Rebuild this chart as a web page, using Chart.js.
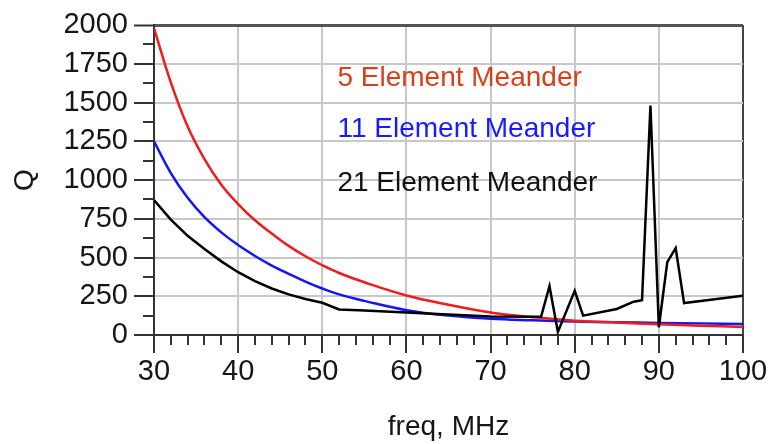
<!DOCTYPE html>
<html>
<head>
<meta charset="utf-8">
<script src="https://cdn.jsdelivr.net/npm/chart.js@4.4.1/dist/chart.umd.min.js"></script>
<style>
  html, body { margin: 0; padding: 0; background: #fff; }
  #wrap { width: 772px; height: 444px; }
</style>
</head>
<body>
<div id="wrap"><canvas id="grafico" width="772" height="444"></canvas></div>
<script>
// valores (frecuencia en MHz, Q)
const freq5 = [30, 32, 34, 36, 38, 40, 42, 44, 46, 48, 50, 52, 55, 60, 65, 70, 75, 80, 85, 90, 95, 100];
const q5 = [1980, 1630, 1345, 1135, 970, 845, 740, 655, 575, 508, 450, 400, 340, 255, 195, 145, 115, 92, 80, 70, 60, 52];

const freq11 = [30, 32, 34, 36, 38, 40, 42, 44, 46, 48, 50, 52, 55, 60, 65, 70, 75, 80, 85, 90, 95, 100];
const q11 = [1250, 1045, 885, 760, 662, 580, 510, 448, 395, 345, 300, 262, 220, 160, 125, 105, 95, 87, 82, 78, 75, 71];

const freq21 = [30, 32, 34, 36, 38, 40, 42, 44, 46, 48, 50, 52, 55, 60, 65, 70, 76, 77, 78, 80, 81, 85, 87, 88, 89, 90, 91, 92, 93, 100];
const q21 = [870, 745, 640, 555, 475, 405, 348, 300, 262, 232, 208, 165, 158, 145, 132, 120, 118, 315, 20, 285, 125, 168, 215, 225, 1480, 50, 470, 560, 206, 253];

// marcas principales de los ejes
const xMajor = [30, 40, 50, 60, 70, 80, 90, 100];
const yMajor = [0, 250, 500, 750, 1000, 1250, 1500, 1750, 2000];

const seriesNames = ['5 Element Meander', '11 Element Meander', '21 Element Meander'];
const textColors = ['#d8401a', '#1a1aff', '#111111'];

const fuente = "'Liberation Sans', Arial, sans-serif";
const toPoints = (xs, ys) => xs.map((x, i) => ({ x: x, y: ys[i] }));

// marcas menores (mas cortas) en los dos ejes
const marcasMenores = {
    id: 'marcasMenores',
    afterDraw(chart) {
        const c = chart.ctx;
        const sx = chart.scales.x, sy = chart.scales.y;
        c.save();
        c.strokeStyle = '#333';
        c.lineWidth = 2;
        sx.ticks.forEach(t => {
            if (xMajor.includes(t.value)) return;
            const px = Math.round(sx.getPixelForValue(t.value));
            c.beginPath(); c.moveTo(px, sx.top); c.lineTo(px, sx.top + 10); c.stroke();
        });
        sy.ticks.forEach(t => {
            if (yMajor.includes(t.value)) return;
            const py = Math.round(sy.getPixelForValue(t.value));
            c.beginPath(); c.moveTo(sy.right, py); c.lineTo(sy.right - 11, py); c.stroke();
        });
        c.restore();
    }
};

// nombres de las series dentro del grafico
const etiquetas = {
    id: 'etiquetas',
    afterDatasetsDraw(chart, args, opts) {
        const c = chart.ctx;
        const sx = chart.scales.x, sy = chart.scales.y;
        c.save();
        c.font = opts.font;
        c.textBaseline = 'alphabetic';
        c.textAlign = 'left';
        seriesNames.forEach((name, i) => {
            c.fillStyle = textColors[i];
            c.fillText(name, sx.getPixelForValue(opts.x), sy.getPixelForValue(opts.y[i]));
        });
        c.restore();
    }
};

const gridColor = (major, edgeValue, edgeColor) => (ctx) => {
    if (!ctx.tick || !major.includes(ctx.tick.value)) return 'rgba(0,0,0,0)';
    return ctx.tick.value === edgeValue ? edgeColor : '#c8c8c8';
};

const miGrafico = new Chart(document.getElementById('grafico').getContext('2d'), {
    type: 'line',
    data: {
        datasets: [{
            label: seriesNames[2],
            data: toPoints(freq21, q21),
            borderColor: '#000000',
            borderWidth: 2.5,
            pointRadius: 0,
            tension: 0
        },
        {
            label: seriesNames[0],
            data: toPoints(freq5, q5),
            borderColor: '#ee1c1c',
            borderWidth: 2.5,
            pointRadius: 0,
            tension: 0.4
        },
        {
            label: seriesNames[1],
            data: toPoints(freq11, q11),
            borderColor: '#1414f5',
            borderWidth: 2.5,
            pointRadius: 0,
            tension: 0.4
        }]
    },
    options: {
        responsive: false,
        animation: false,
        layout: { padding: { top: 25, right: 29, left: 0, bottom: 0 } },
        plugins: {
            legend: { display: false },
            tooltip: { enabled: false },
            etiquetas: { x: 51.8, y: [1605, 1275, 926], font: "28px " + fuente }
        },
        scales: {
            x: {
                type: 'linear',
                min: 30,
                max: 100,
                afterFit: (s) => { s.height = 109; },
                border: { display: true, color: '#333', width: 2 },
                grid: {
                    color: gridColor(xMajor, 100, '#444'),
                    lineWidth: 2,
                    tickLength: 18,
                    tickWidth: 2,
                    tickColor: (c) => c.tick && xMajor.includes(c.tick.value) ? '#333' : 'rgba(0,0,0,0)'
                },
                ticks: {
                    stepSize: 2,
                    autoSkip: false,
                    maxRotation: 0,
                    padding: 2,
                    color: '#161616',
                    font: { family: fuente, size: 29 },
                    callback: (v) => xMajor.includes(v) ? String(v) : ''
                },
                title: {
                    display: true,
                    text: 'freq, MHz',
                    color: '#161616',
                    font: { family: fuente, size: 28 },
                    padding: { top: 0, bottom: 0 }
                }
            },
            y: {
                min: 0,
                max: 2000,
                afterFit: (s) => { s.width = 154; },
                border: { display: true, color: '#333', width: 2 },
                grid: {
                    color: gridColor(yMajor, 2000, '#555'),
                    lineWidth: (c) => c.tick && c.tick.value === 2000 ? 3 : 2,
                    tickLength: 20,
                    tickWidth: 2,
                    tickColor: (c) => c.tick && yMajor.includes(c.tick.value) ? '#333' : 'rgba(0,0,0,0)'
                },
                ticks: {
                    stepSize: 125,
                    autoSkip: false,
                    padding: 6,
                    color: '#161616',
                    font: { family: fuente, size: 29 },
                    callback: (v) => yMajor.includes(v) ? String(v) : ''
                },
                title: {
                    display: true,
                    text: 'Q',
                    color: '#161616',
                    font: { family: fuente, size: 28 },
                    padding: { top: 8, bottom: 0 }
                }
            }
        }
    },
    plugins: [marcasMenores, etiquetas]
});
</script>
</body>
</html>
